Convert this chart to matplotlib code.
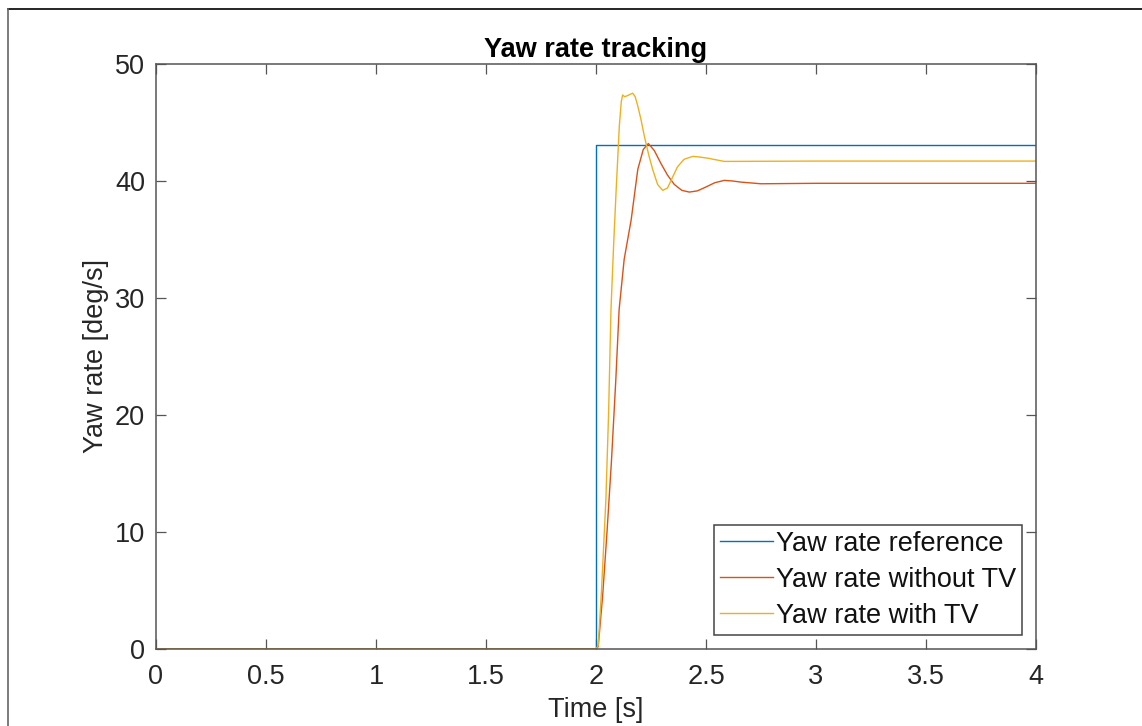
import matplotlib
matplotlib.use("Agg")
import matplotlib.pyplot as plt
from matplotlib.lines import Line2D

plt.rcParams['font.family'] = ['Liberation Sans', 'DejaVu Sans']

# Data
t_ref = [0.0, 2.0, 2.0, 4.0]
r_ref = [0.0, 0.0, 43.1, 43.1]

t_notv = [0.0, 2.0, 2.01, 2.03, 2.05, 2.07, 2.09, 2.105, 2.128, 2.16, 2.19,
          2.215, 2.238, 2.265, 2.295, 2.325, 2.356, 2.39, 2.424, 2.46, 2.49,
          2.54, 2.583, 2.62, 2.66, 2.75, 3.0, 4.0]
r_notv = [0.0, 0.0, 0.2, 4.5, 10.0, 16.0, 23.0, 29.0, 33.3, 36.7, 41.0,
          42.7, 43.2, 42.6, 41.5, 40.5, 39.7, 39.2, 39.05, 39.15, 39.4,
          39.85, 40.05, 40.0, 39.9, 39.76, 39.8, 39.8]

t_tv = [0.0, 2.0, 2.01, 2.025, 2.045, 2.057, 2.068, 2.08, 2.091, 2.106, 2.115,
        2.121, 2.13, 2.144, 2.155, 2.167, 2.178, 2.19, 2.205, 2.22, 2.24,
        2.258, 2.28, 2.303, 2.325, 2.345, 2.37, 2.4, 2.44, 2.47, 2.507,
        2.583, 3.0, 4.0]
r_tv = [0.0, 0.0, 0.3, 5.0, 12.8, 20.0, 29.0, 34.5, 39.0, 44.7, 46.8,
        47.35, 47.2, 47.3, 47.4, 47.5, 47.2, 46.4, 45.2, 43.8, 42.2,
        40.96, 39.7, 39.2, 39.4, 40.2, 41.2, 41.85, 42.1, 42.05, 41.95,
        41.67, 41.7, 41.7]

labels = ['Yaw rate reference', 'Yaw rate without TV', 'Yaw rate with TV']
x_ticks = [0, 0.5, 1, 1.5, 2, 2.5, 3, 3.5, 4]
y_ticks = [0, 10, 20, 30, 40, 50]

fs = 19.5

fig = plt.figure(figsize=(11.42, 7.26), dpi=100)
ax = fig.add_axes([0.1366, 0.1061, 0.7706, 0.8058])

ax.plot(t_ref, r_ref, color='#0072BD', lw=1.0, label=labels[0])
ax.plot(t_notv, r_notv, color='#D95319', lw=1.0, label=labels[1])
ax.plot(t_tv, r_tv, color='#EDB120', lw=1.0, label=labels[2])

ax.set_xlim(0, 4)
ax.set_ylim(0, 50)
ax.set_xticks(x_ticks)
ax.set_xticklabels(['0', '0.5', '1', '1.5', '2', '2.5', '3', '3.5', '4'])
ax.set_yticks(y_ticks)

for s in ax.spines.values():
    s.set_color('#555555')
    s.set_linewidth(1.1)
ax.tick_params(direction='in', top=True, right=True, length=7, width=0.9,
               color='#555555', labelcolor='#262626', labelsize=fs)
ax.tick_params(axis='x', pad=11)
ax.tick_params(axis='y', pad=8)

ax.set_title('Yaw rate tracking', fontsize=fs, fontweight='bold', pad=5)
ax.set_xlabel('Time [s]', fontsize=fs, color='#262626', labelpad=5)
ax.set_ylabel('Yaw rate [deg/s]', fontsize=fs, color='#262626', labelpad=4)

leg = ax.legend(loc='lower right', bbox_to_anchor=(0.984, 0.024),
                borderaxespad=0, fontsize=fs, frameon=True, fancybox=False,
                handlelength=1.95, handletextpad=0.1, borderpad=0.22,
                labelspacing=0.37)
leg.get_frame().set_edgecolor('#444444')
leg.get_frame().set_linewidth(1.1)
leg.get_frame().set_alpha(1)
for txt in leg.get_texts():
    txt.set_color('#111111')

# figure border (partly cut off at the right and bottom)
fig.add_artist(Line2D([8 / 1142, 1.0], [1 - 9 / 726, 1 - 9 / 726],
                      transform=fig.transFigure, color='black', lw=1.2))
fig.add_artist(Line2D([8 / 1142, 8 / 1142], [1 - 9 / 726, 0.0],
                      transform=fig.transFigure, color='#666666', lw=1.2))

fig.savefig('out.png', dpi=100)
